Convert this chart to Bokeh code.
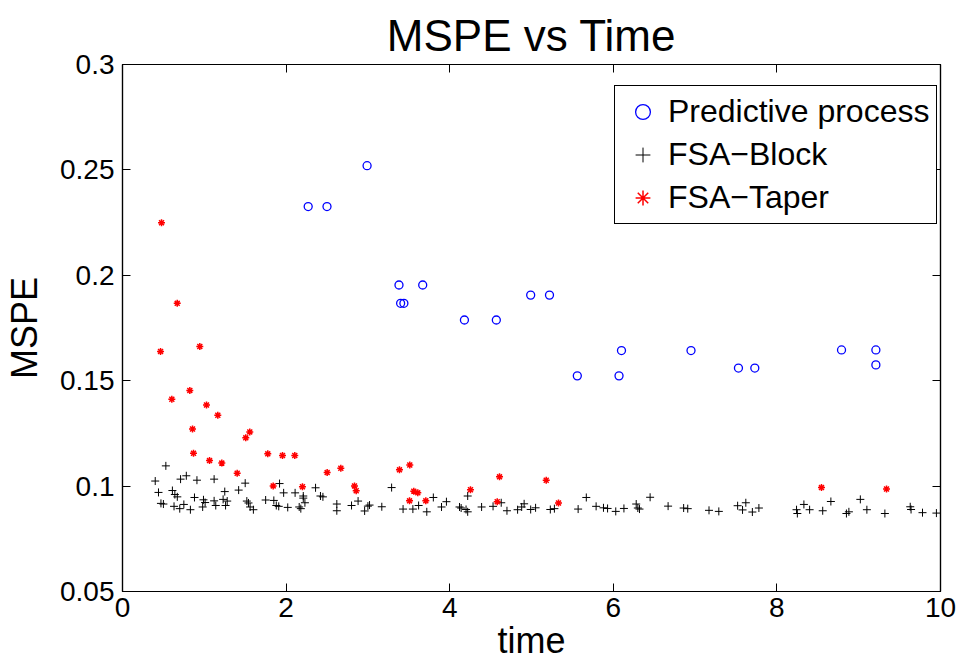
from bokeh.plotting import figure
from bokeh.models import (Range1d, FixedTicker, LinearAxis, Legend, LegendItem,
                          CustomLabelingPolicy)
from bokeh.embed import file_html
from bokeh.resources import INLINE

# ---- data ----
pp_time = [2.27, 2.50, 2.99, 3.38, 3.40, 3.44, 3.67, 4.18, 4.57, 4.99, 5.22,
           5.56, 6.07, 6.10, 6.95, 7.53, 7.73, 8.79, 9.21, 9.21]
pp_mspe = [0.2326, 0.2326, 0.2520, 0.1954, 0.1867, 0.1867, 0.1954, 0.1788,
           0.1788, 0.1906, 0.1906, 0.1523, 0.1523, 0.1643, 0.1643, 0.1560,
           0.1560, 0.1646, 0.1646, 0.1575]

taper_time = [0.477, 0.669, 0.465, 0.945, 0.823, 0.603, 1.027, 1.165, 0.856,
              1.556, 1.507, 0.868, 1.776, 1.956, 2.106, 1.064, 1.214, 1.402,
              2.502, 2.669, 3.386, 3.512, 1.842, 2.200, 2.836, 2.857, 3.561,
              3.610, 3.509, 3.708, 4.254, 4.581, 4.609, 5.180, 5.330, 8.545,
              9.340]
taper_mspe = [0.2249, 0.1867, 0.1639, 0.1662, 0.1454, 0.1412, 0.1385, 0.1336,
              0.1271, 0.1257, 0.1229, 0.1156, 0.1153, 0.1145, 0.1145, 0.1121,
              0.1109, 0.1061, 0.1064, 0.1085, 0.1077, 0.1100, 0.1001, 0.0997,
              0.1001, 0.0978, 0.0976, 0.0968, 0.0930, 0.0930, 0.0983, 0.0926,
              0.1044, 0.1028, 0.0920, 0.0993, 0.0986]

block_time = [0.53, 0.40, 0.44, 0.61, 0.64, 0.67, 0.47, 0.50, 0.63, 0.70,
              0.71, 0.78, 0.75, 0.91, 0.88, 0.83, 0.99, 1.01, 0.98, 1.12,
              1.12, 1.14, 1.25, 1.23, 1.28, 1.26, 1.42, 1.50, 1.52, 1.54,
              1.56, 1.60, 1.75, 1.85, 1.88, 1.91, 1.92, 1.97, 2.02, 2.11,
              2.16, 2.18, 2.21, 2.21, 2.23, 2.36, 2.42, 2.45, 2.62, 2.62,
              2.80, 2.88, 2.96, 3.00, 3.02, 3.17, 3.29, 3.43, 3.55, 3.62,
              3.72, 3.80, 3.90, 3.96, 4.12, 4.14, 4.20, 4.22, 4.22, 4.39,
              4.53, 4.63, 4.70, 4.83, 4.88, 4.91, 4.99, 5.05, 5.23, 5.28,
              5.57, 5.67, 5.79, 5.88, 5.93, 6.03, 6.13, 6.28, 6.30, 6.32,
              6.45, 6.67, 6.86, 6.91, 7.17, 7.29, 7.52, 7.62, 7.58, 7.70,
              7.78, 8.24, 8.25, 8.33, 8.40, 8.56, 8.66, 8.85, 8.88, 9.02,
              9.10, 9.32, 9.63, 9.64, 9.78, 9.95]
block_mspe = [0.1096, 0.1024, 0.0970, 0.0979, 0.0960, 0.0949, 0.0918, 0.0915,
              0.0904, 0.0893, 0.1033, 0.1049, 0.0913, 0.1028, 0.0946, 0.0888,
              0.0935, 0.0922, 0.0901, 0.1033, 0.0930, 0.0908, 0.0974, 0.0937,
              0.0929, 0.0908, 0.0981, 0.1014, 0.0929, 0.0920, 0.0901, 0.0888,
              0.0934, 0.0932, 0.0908, 0.0904, 0.1012, 0.0968, 0.0899, 0.0968,
              0.0901, 0.0893, 0.0953, 0.0943, 0.0921, 0.0992, 0.0953, 0.0949,
              0.0915, 0.0883, 0.0908, 0.0929, 0.0882, 0.0905, 0.0910, 0.0902,
              0.0993, 0.0891, 0.0891, 0.0908, 0.0878, 0.0946, 0.0901, 0.0926,
              0.0901, 0.0896, 0.0889, 0.0878, 0.0953, 0.0901, 0.0904, 0.0921,
              0.0883, 0.0888, 0.0901, 0.0916, 0.0889, 0.0897, 0.0889, 0.0893,
              0.0891, 0.0946, 0.0904, 0.0897, 0.0894, 0.0880, 0.0894, 0.0915,
              0.0896, 0.0891, 0.0947, 0.0905, 0.0896, 0.0893, 0.0885, 0.0880,
              0.0907, 0.0921, 0.0887, 0.0877, 0.0896, 0.0888, 0.0870, 0.0913,
              0.0888, 0.0883, 0.0927, 0.0870, 0.0878, 0.0937, 0.0888, 0.0870,
              0.0902, 0.0889, 0.0874, 0.0872]

x_ticks = [0, 2, 4, 6, 8, 10]
y_ticks = [0.05, 0.1, 0.15, 0.2, 0.25, 0.3]
y_tick_labels = ["0.05", "0.1", "0.15", "0.2", "0.25", "0.3"]

FONT = "Liberation Sans"

p = figure(width=961, height=663, output_backend="svg", toolbar_location=None,
           x_range=Range1d(0, 10), y_range=Range1d(0.05, 0.3),
           title="MSPE vs Time", x_axis_label="time", y_axis_label="MSPE",
           min_border_left=122, min_border_right=21, min_border_top=64,
           min_border_bottom=70)

p.title.align = "center"
p.title.text_font = FONT
p.title.text_font_size = "44px"
p.title.text_font_style = "normal"
p.title.text_color = "black"
p.title.standoff = 9

p.xgrid.visible = False
p.ygrid.visible = False
p.outline_line_color = "black"
p.outline_line_width = 1.2

def style_axis(ax, labels=True):
    ax.axis_line_color = "black"
    ax.axis_line_width = 1.2
    ax.major_tick_in = 8
    ax.major_tick_out = 0
    ax.minor_tick_line_color = None
    ax.major_tick_line_color = "black"
    ax.major_label_text_font = FONT
    ax.major_label_text_font_size = "28px" if labels else "0px"
    ax.major_label_text_color = "black"
    ax.axis_label_text_font = FONT
    ax.axis_label_text_font_size = "36px"
    ax.axis_label_text_font_style = "normal"
    ax.axis_label_text_color = "black"

xa = p.xaxis[0]
ya = p.yaxis[0]
xa.ticker = FixedTicker(ticks=x_ticks)
ya.ticker = FixedTicker(ticks=y_ticks)
ya.major_label_overrides = {t: s for t, s in zip(y_ticks, y_tick_labels)}
style_axis(xa)
style_axis(ya)
xa.major_label_standoff = 6
xa.axis_label_standoff = 0
ya.major_label_standoff = 8
ya.axis_label_standoff = 12

# mirror axes (box) with inward ticks and no labels drawn
no_labels = CustomLabelingPolicy(
    code="for (let i = 0; i < indices.size; i++) { indices.unset(i) } return indices")
ra = LinearAxis(ticker=FixedTicker(ticks=y_ticks), major_label_policy=no_labels)
ta = LinearAxis(ticker=FixedTicker(ticks=x_ticks), major_label_policy=no_labels)
style_axis(ra, False)
style_axis(ta, False)
ra.major_label_standoff = 0
ta.major_label_standoff = 0
p.add_layout(ra, "right")
p.add_layout(ta, "above")

r_pp = p.scatter(pp_time, pp_mspe, marker="circle", size=8, fill_color=None,
                 line_color="#0000ff", line_width=1.3)
r_blk = p.scatter(block_time, block_mspe, marker="cross", size=8,
                  line_color="black", line_width=1)
r_tp = p.scatter(taper_time, taper_mspe, marker="asterisk", size=7,
                 line_color="#ff0000", line_width=1.5)

legend = Legend(items=[LegendItem(label="Predictive process", renderers=[r_pp]),
                       LegendItem(label="FSA\u2212Block", renderers=[r_blk]),
                       LegendItem(label="FSA\u2212Taper", renderers=[r_tp])],
                location=(492, 367))
legend.label_text_font = FONT
legend.label_text_font_size = "32px"
legend.label_text_color = "black"
legend.label_height = 37
legend.glyph_height = 37
legend.glyph_width = 41
legend.label_standoff = 5
legend.spacing = 6
legend.padding = 7
legend.margin = 0
legend.border_line_color = "black"
legend.border_line_width = 1.2
legend.border_line_alpha = 1
legend.background_fill_color = "white"
legend.background_fill_alpha = 1
p.add_layout(legend, "center")

open("out.html", "w").write(file_html(p, INLINE))
